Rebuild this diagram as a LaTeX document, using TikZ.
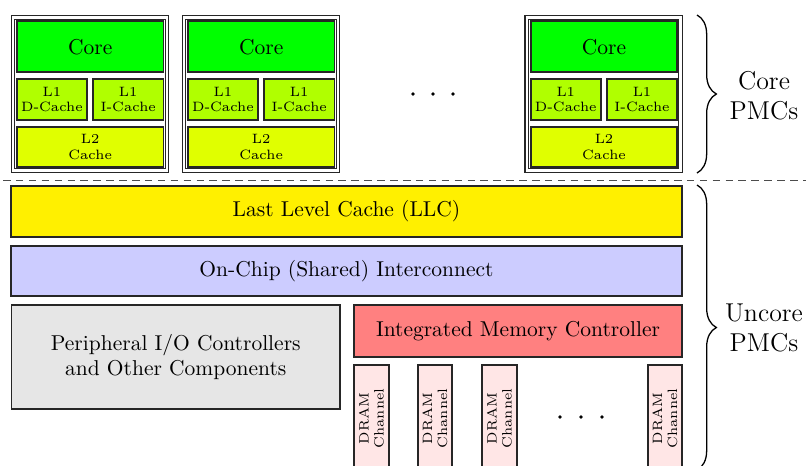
\documentclass[tikz,border=0pt]{standalone}
\usetikzlibrary{fit,decorations.pathreplacing}

\definecolor{corefill}{RGB}{0,255,0}
\definecolor{lonefill}{RGB}{176,255,0}
\definecolor{ltwofill}{RGB}{224,255,0}
\definecolor{llcfill}{RGB}{255,240,0}
\definecolor{icfill}{RGB}{204,204,255}
\definecolor{periphfill}{RGB}{230,230,230}
\definecolor{imcfill}{RGB}{255,128,128}
\definecolor{dramfill}{RGB}{255,230,230}

\tikzset{
  unit/.style={draw=black!85, line width=0.8pt, inner sep=0pt},
  boxtxt/.style={align=center, inner sep=1pt},
  smalltxt/.style={font=\fontsize{6.3}{7}\selectfont, align=center, inner sep=1pt},
  tile/.style={draw=black!85, line width=0.5pt, double, double distance=1.2pt, inner sep=0pt},
  sepline/.style={draw=black!70, line width=0.4pt, dash pattern=on 3.5pt off 2.5pt},
  pmcbrace/.style={decorate, decoration={brace, amplitude=9pt}, line width=0.6pt},
  pmclabel/.style={font=\large, align=center},
  dotmark/.style={fill=black},
}

% one core tile: #1 = left edge of the outer frame, #2 = name prefix
\newcommand\coretile[2]{%
  \node[tile, fit={(#1+2.3,17.3)(#1+156.2,170.7)}] (#2) {};
  \node[unit, fill=corefill, fit={(#1+6.3,21.3)(#1+152.7,72.2)}] (#2core) {};
  \node[boxtxt] (#2coretxt) at (#2core.center) {Core};
  \node[unit, fill=lonefill, fit={(#1+6.3,78.8)(#1+76.2,120.2)}] (#2ld) {};
  \node[smalltxt] (#2ldtxt) at (#2ld.center) {L1\\D-Cache};
  \node[unit, fill=lonefill, fit={(#1+82.3,78.8)(#1+152.7,120.2)}] (#2li) {};
  \node[smalltxt] (#2litxt) at (#2li.center) {L1\\I-Cache};
  \node[unit, fill=ltwofill, fit={(#1+6.3,126.8)(#1+152.7,167.2)}] (#2lt) {};
  \node[smalltxt] (#2lttxt) at (#2lt.center) {L2\\Cache};
}

\begin{document}
\begin{tikzpicture}[x=0.465pt, y=-0.465pt]
  \useasboundingbox (0,0) rectangle (806,465);

  % core tiles
  \coretile{10.7}{ca}
  \coretile{181.7}{cb}
  \coretile{524.5}{cc}
  \fill[dotmark] (413,94) circle[radius=0.85pt] (433,94) circle[radius=0.85pt] (453,94) circle[radius=0.85pt];

  % core / uncore separator
  \coordinate (sepL) at (3,180);
  \coordinate (sepR) at (806,180);
  \draw[sepline] (sepL) -- (sepR);

  % uncore
  \node[unit, fill=llcfill, fit={(11,186)(682,237)}] (llc) {};
  \node[boxtxt] (llctxt) at (llc.center) {Last Level Cache (LLC)};
  \node[unit, fill=icfill, fit={(11,246)(682,296)}] (ic) {};
  \node[boxtxt] (ictxt) at (ic.center) {On-Chip (Shared) Interconnect};
  \node[unit, fill=periphfill, fit={(11.5,305)(340,409)}] (periph) {};
  \node[boxtxt] (periphtxt) at (periph.center) {Peripheral I/O Controllers\\and Other Components};
  \node[unit, fill=imcfill, fit={(354,305)(682,357)}] (imc) {};
  \node[boxtxt] (imctxt) at (imc.center) {Integrated Memory Controller};

  \foreach \xl/\xr/\n in {354/389/da, 418/452/db, 482/517/dc, 648/682/dd}{
    \node[unit, fill=dramfill, fit={(\xl,365)(\xr,472)}] (\n) {};
    \node[smalltxt, rotate=90] (\n txt) at (\n.center) {DRAM\\Channel};
  }
  \fill[dotmark] (560,417) circle[radius=0.85pt] (581,417) circle[radius=0.85pt] (602,417) circle[radius=0.85pt];

  % PMC braces
  \coordinate (cbT) at (697,15);
  \coordinate (cbB) at (697,173);
  \draw[pmcbrace] (cbT) -- (cbB);
  \node[pmclabel] (corepmc) at (764,96) {Core\\PMCs};

  \coordinate (ubT) at (697,185);
  \coordinate (ubB) at (697,470);
  \draw[pmcbrace] (ubT) -- (ubB);
  \node[pmclabel] (uncorepmc) at (764,328) {Uncore\\PMCs};
\end{tikzpicture}
\end{document}
